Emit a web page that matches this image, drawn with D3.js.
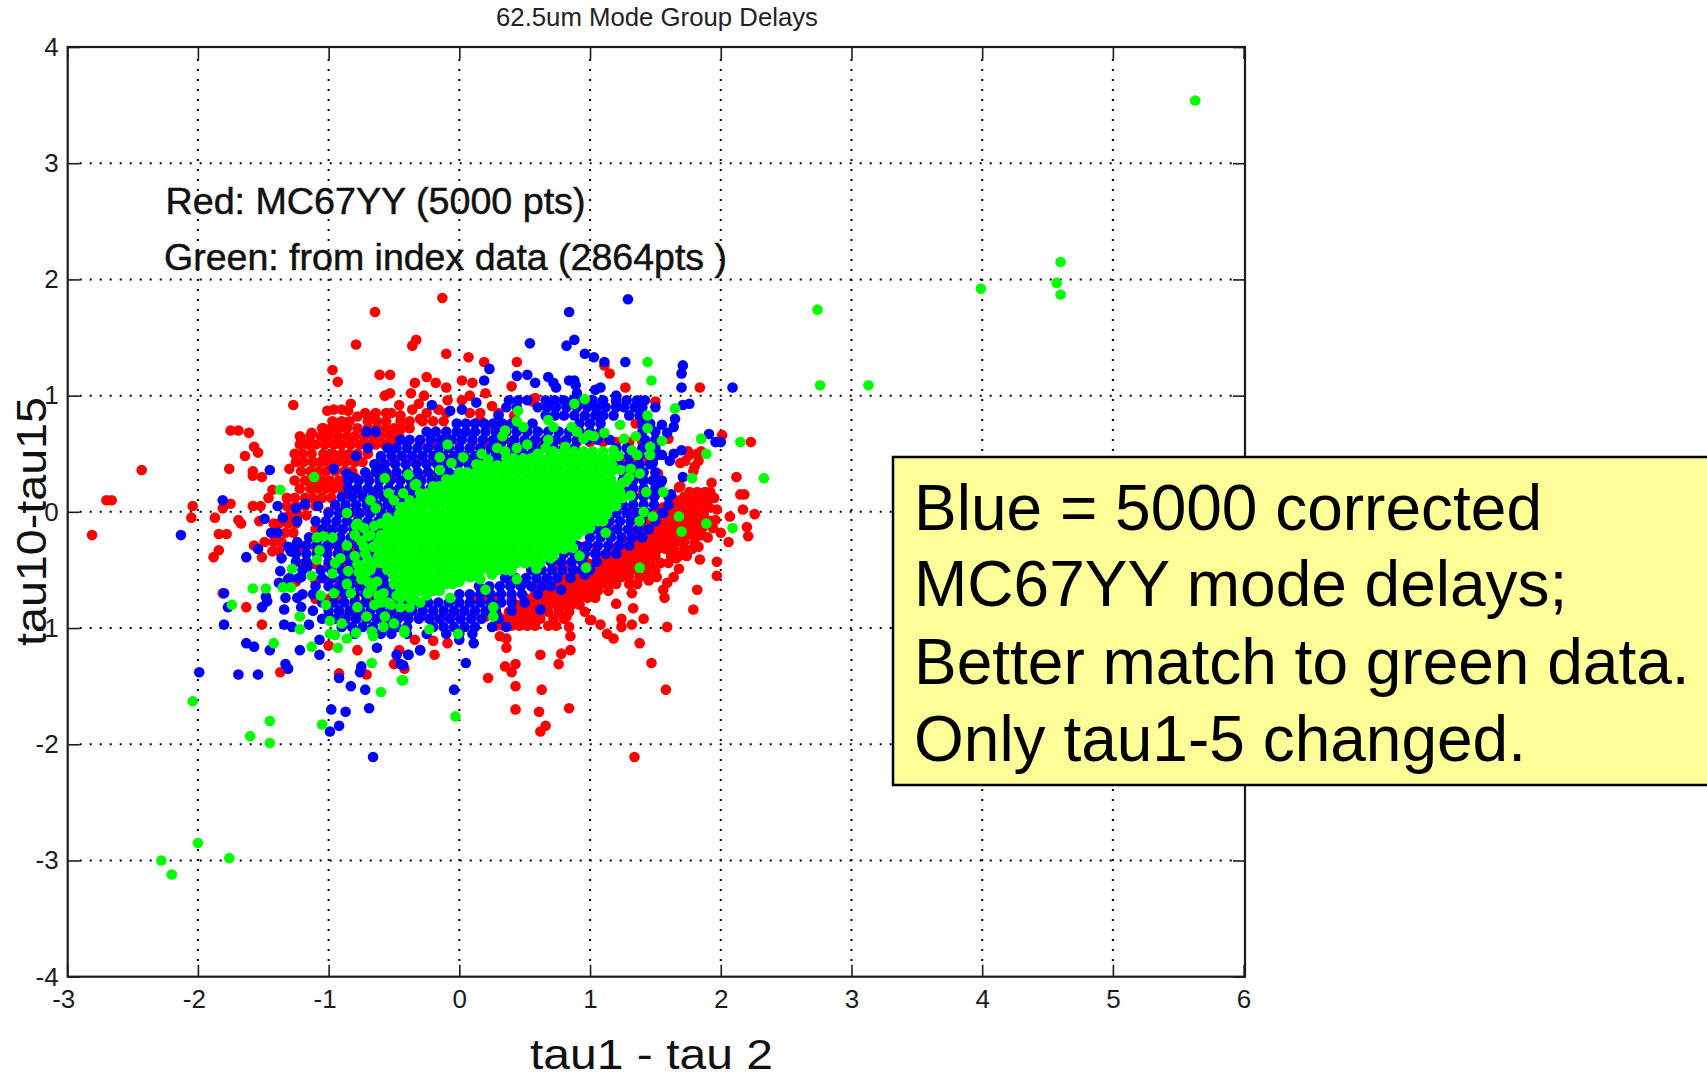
<!DOCTYPE html>
<html><head><meta charset="utf-8">
<script src="https://d3js.org/d3.v7.min.js"></script>
<style>html,body{margin:0;padding:0;background:#fff}svg{display:block}text{font-family:"Liberation Sans",Arial,sans-serif}</style>
</head><body><svg id="c" width="1707" height="1078"></svg>
<script>
const xTicks=[-3,-2,-1,0,1,2,3,4,5,6];
const yTicks=[-4,-3,-2,-1,0,1,2,3,4];
const titleText="62.5um Mode Group Delays";
const xLabel="tau1 - tau 2";
const yLabel="tau10-tau15";
const noteLines=["Red: MC67YY (5000 pts)","Green: from index data (2864pts )"];
const boxLines=["Blue = 5000 corrected","MC67YY mode delays;","Better match to green data.","Only tau1-5 changed."];

const redScatter=[[-2.81,-.2],[-2.7,.1],[-2.66,.1],[-2.43,.36],[-2.04,.05],[-2.05,-.05],[-1.87,-.05],[-1.75,.07],[-1.81,.03],[-1.69,-.07],[-1.67,-.1],[-1.84,-.19],[-1.78,-.19],[-1.84,-.33],[-1.88,-.39],[-1.75,.7],[-1.69,.7],[-1.61,.68],[-1.57,.56],[-1.54,.51],[-1.64,.48],[-1.76,.37],[-1.58,.35],[-1.58,.31],[-1.51,.3],[-1.27,.92],[-1.3,.37],[-1.43,.19],[-1.46,.12],[-1.58,.05],[-1.52,.05],[-1.53,-.08],[-1.42,-.1],[-1.49,-.26],[-1.57,-.29],[-1.51,-.39],[-1.63,-.82],[-1.51,-.97],[-1.81,-.7],[-1.37,-1.38],[-.92,-1.39],[-.71,-1.4],[-.5,-1.31],[-.42,-1.35],[-.46,-1.19],[-.78,-1.19],[-1,-1.15],[-.34,-1.1],[-.19,-1.23],[-.09,-1.13],[-.2,-1.11],[.22,-1.43],[.43,-1.5],[.63,-1.53],[.43,-1.7],[.61,-1.72],[.84,-1.69],[.66,-1.84],[.62,-1.89],[.35,-1.33],[.43,-1.31],[.4,-1.38],[.62,-1.23],[.78,-1.22],[.76,-1.31],[.85,-1.19],[.36,-1.17],[.31,-1.07],[.36,-1.09],[.85,-1.07],[.84,-.99],[.82,-.9],[.96,-.86],[1,-.93],[1.01,-.93],[1.08,-.97],[1.13,-1.05],[1.18,-1.09],[-.97,1.22],[-.93,1.12],[-.61,1.18],[-.53,1.18],[-.57,1],[-.53,1.02],[-.37,1.02],[-.34,1.11],[-.25,1.16],[-.18,1.11],[-.1,1.07],[-.1,1.36],[.07,1.33],[.19,1.29],[.44,1.29],[.02,1.13],[.1,1.11],[.2,1.02],[-.27,1],[-.31,.93],[-.36,.88],[-.46,.92],[-.83,.93],[-.85,.87],[-1.01,.87],[-.96,.88],[-.9,.88],[-.09,.96],[.02,.96],[.08,1],[.25,.91],[-.16,.88],[-.2,.78],[.16,.79],[.4,1.08],[-.13,1.84],[-.645,1.72],[-.79,1.44],[-.33,1.48],[-.36,1.43],[1.11,1.26],[1.15,1.19],[1.27,1.07],[1.84,1.07],[2.01,.66],[2.23,.6],[2.12,.3],[2.15,.15],[2.18,.15],[1.93,.25],[1.68,.21],[2.17,.02],[2.26,-.02],[1.97,.02],[2.07,-.04],[2.2,-.13],[2.21,-.21],[2.06,-.26],[1.97,-.43],[1.97,-.55],[1.82,-.67],[1.79,-.84],[1.57,-.74],[1.56,-.67],[1.59,-.61],[1.64,-.56],[1.68,-.49],[1.59,-.99],[1.41,-.92],[1.33,-.83],[1.32,-.7],[1.2,-.79],[1.24,-.92],[1.24,-.99],[1.32,-.97],[1.38,-1.13],[1.47,-1.3],[1.58,-1.53],[1.34,-2.11],[.56,.95],[.58,.98],[.7,.91],[1.2,.94],[1.35,.76],[1.5,.95],[1.6,.63],[1.75,.52],[1.82,.5],[1.73,.44],[1.8,.39],[1.72,.13],[1.05,.85],[.25,.75],[.42,.83],[1.69,.42],[1.79,.35],[1.76,.49],[1.85,.52],[1.83,.44],[1.52,.33],[1.69,.22],[1.96,-.07],[1.84,-.41],[1.83,-.3],[1.74,-.36],[1.66,-.4],[1.48,-.47],[1.51,-.56],[1.45,-.59],[1.31,-.41],[1.95,.12],[2,-.18],[1.9,-.22],[-1.21,.61],[-1.13,.68],[-1.05,.72],[-.95,.76],[-.78,.82],[-.66,.82],[-.52,.85],[-.45,.83],[-.3,.8]];
const redBand=[
[.85,-.72,-.64,-.56,-.25,-.1,.08,.16,.3],
[.78,-.97,-.9,-.84,-.7,-.63,-.56,-.45,-.38,-.28,-.12],
[.72,-1.04,-.98,-.92,-.86,-.78,-.7,-.63,-.56,-.5,-.44,-.38],
[.65,-1.22,-1.14,-1.06,-1,-.93,-.86,-.8,-.73,-.66,-.6,-.53,-.46],
[.58,-1.22,-1.16,-1.1,-1.03,-.96,-.9,-.83,-.76,-.7,-.64,-.57],
[.5,-1.26,-1.2,-1.13,-1.04,-.97,-.9,-.84,-.78,-.7],
[.43,-1.25,-1.19,-1.12,-1.06,-1,-.93,-.87,-.8,-.74],
[.35,-1.21,-1.14,-1.08,-1.02,-.95,-.88,-.82],
[.27,-1.26,-1.18,-1.12,-1.05,-.99,-.92,-.86],
[.2,-1.22,-1.14,-1.08,-1.02,-.96,-.9],
[.12,-1.32,-1.26,-1.18,-1.12,-1.05,-.98],
[.05,-1.32,-1.25,-1.18,-1.1],
[-.03,-1.3,-1.24,-1.17],
[-.1,-1.38,-1.31,-1.25],
[-.18,-1.4,-1.33,-1.27],
[-.26,-1.42,-1.36],
[-.34,-1.43,-1.38],
[.17,1.76,1.82,1.88,1.92],
[.1,1.66,1.72,1.78,1.84,1.9],
[.04,1.56,1.62,1.68,1.74,1.8,1.86,1.91],
[-.02,1.5,1.56,1.62,1.68,1.74,1.8,1.87],
[-.08,1.44,1.5,1.56,1.62,1.68,1.74,1.8,1.86,1.92],
[-.14,1.38,1.44,1.5,1.56,1.62,1.68,1.74,1.8,1.86,1.94],
[-.2,1.32,1.38,1.44,1.5,1.56,1.62,1.68,1.74,1.8,1.85],
[-.26,1.24,1.3,1.36,1.42,1.48,1.54,1.6,1.66,1.72,1.8],
[-.32,1.16,1.22,1.28,1.34,1.4,1.46,1.52,1.58,1.64,1.72,1.78],
[-.38,1.08,1.14,1.2,1.26,1.32,1.38,1.44,1.5,1.62,1.68,1.74],
[-.44,.98,1.04,1.1,1.16,1.22,1.28,1.34,1.4,1.46,1.54,1.6],
[-.5,.88,.94,1,1.06,1.12,1.18,1.24,1.3,1.36,1.44,1.5],
[-.56,.76,.82,.88,.94,1,1.06,1.12,1.18,1.24,1.3,1.38,1.44],
[-.62,.66,.72,.78,.84,.9,.96,1.02,1.08,1.14,1.2,1.3,1.36],
[-.68,.58,.64,.7,.76,.82,.88,.94,1,1.06,1.14],
[-.74,.5,.56,.62,.68,.74,.8,.86,.92,.98,1.04],
[-.8,.44,.5,.56,.62,.68,.74,.8,.86,.92],
[-.86,.38,.44,.5,.56,.62,.68,.76,.84],
[-.92,.32,.38,.44,.5,.56,.62,.72,.8],
[-.98,.28,.34,.4,.46,.52,.58,.68,.74],
[.6,-.5,-.4,-.3,-.2,-.1,0,.1,.2,.3,.4,.5,.6,.7,.8,.9,1,1.1,1.2,1.3,1.4],
[.45,-.6,-.5,-.4,-.3,-.2,-.1,0,.1,.2,.3,1.25,1.35,1.45],
[.3,-.8,-.7,-.6,-.5,-.4,-.3,-.2,-.1,1.3,1.4,1.5],
[.15,-.85,-.75,-.65,-.55,-.45,-.35,1.3,1.4,1.5],
[0,-1,-.9,-.8,-.7,-.6,-.5,1.2,1.3,1.4,1.5],
[-.15,-1.1,-1,-.9,-.8,-.7,-.6,1.1,1.2,1.3,1.4],
[-.3,-1.2,-1.1,-1,-.9,-.8,-.7,.95,1.05,1.15,1.25],
[-.45,-1.2,-1.1,-1,-.9,-.8,-.7,.75,.85,.95],
[-.6,-1.25,-1.1,-1,-.9,-.8,-.7,.4,.5,.6,.7,.8],
[-.75,-1.1,-1,-.9,-.8,-.7,-.6,.1,.2,.3,.4,.5],
[-.9,-1,-.9,-.8,-.7,-.6,-.5,-.4,-.3,-.2,-.1,0,.1,.2,.3]
];

const blueScatter=[[1.29,1.83],[.84,1.72],[.54,1.45],[.82,1.43],[.88,1.48],[.96,1.36],[1.03,1.33],[1.11,1.29],[1.27,1.29],[.23,1.23],[.19,1.13],[.44,1.17],[.52,1.18],[.58,1.11],[.68,1.16],[.72,1.11],[.74,1.07],[.84,1.13],[.88,1.13],[.89,1.09],[.9,1.02],[1.04,1.05],[1.08,1.07],[1.7,1.07],[1.7,1.19],[1.71,1.26],[2.09,1.07],[1.76,.93],[1.71,.92],[1.65,.8],[1.64,.73],[1.59,.68],[1.55,.75],[1.2,1],[1.91,.67],[1.96,.6],[2,.6],[1.7,.53],[1.64,.5],[1.55,.49],[1.61,.44],[1.48,.42],[1.71,.3],[1.54,.25],[1.62,.15],[1.56,-.01],[.78,-.67],[.62,-.84],[.96,-.54],[.36,-.99],[.11,-1.13],[0,-1.1],[.05,-1.3],[-.04,-1.53],[-.3,-1.19],[-.39,-1.23],[-.43,-1.32],[-1.45,.36],[-1.81,.1],[-2.13,-.2],[-1.63,-.39],[-1.54,-.32],[-1.49,-.06],[-1.8,-.7],[-1.77,-.82],[-1.8,-.97],[-1.63,-1.13],[-1.57,-1.16],[-1.45,-1.19],[-1.22,-1.19],[-1.07,-1.23],[-1.99,-1.38],[-1.69,-1.4],[-1.54,-1.4],[-1.33,-1.31],[-1.31,-1.35],[-.75,-1.33],[-.76,-1.38],[-.92,-1.43],[-.83,-1.5],[-.72,-1.53],[-.98,-1.7],[-.87,-1.72],[-.69,-1.69],[-.92,-1.84],[-.99,-1.89],[-.66,-2.11],[-.63,-1.17],[-.48,-1.23],[-.39,-1.23],[-.45,-1.31],[-.3,-1.19],[.13,.94],[-.21,.92],[-.07,.87],[.02,.88],[-.96,.37],[-.86,.33],[-.82,.3],[-.79,.48],[-.7,.55],[-.71,.69],[-.64,.69],[-.63,.37],[-1.39,.05],[-1.35,-.05],[-1.25,.03],[-1.18,.07],[-1.08,.05],[-1.24,-.08],[-1.44,-.18],[-1.39,-.18],[-1.36,-.4],[-1.29,-.34],[-1.24,-.26],[-1.31,-.3],[-1.37,-.51],[-1.38,-.61],[-1.33,-.74],[-1.34,-.84],[-1.24,-.74],[-1.21,-.82],[-1.51,-.82],[-1.47,-.77],[-1.48,-.73],[-1.34,-.97],[-1.28,-.99],[-1.15,-.97],[-1.07,-1.1],[-1.31,-.58],[-1.21,-.56],[-1.16,-.47]];
const blueBand=[
[.96,.38,.45,.52,.66,.73,.8,.87,.95,1.02,1.1,1.2,1.28,1.36,1.42],
[.9,.36,.44,.6,.67,.74,.82,.9,.98,1.05,1.12,1.2,1.26,1.34,1.4,1.5],
[.83,.3,.66,.73,.8,.88,.96,1.04,1.1,1.18,1.3,1.38],
[.76,-.02,.05,.12,.19,.26,.33,.4,.56,.92,1,1.08,1.4,1.46],
[.69,-.25,-.18,-.1,-.02,.05,.12,.2,.28,.36,.44,.52,.6,.68,.76,.84,.92,1,1.08,1.4,1.5],
[.62,-.45,-.38,-.3,-.22,-.14,-.06,.02,.1,.18,.26,.34,.42,.5,.58,.66,.74,.82,.9,.98,1.06,1.15,1.42,1.5],
[.55,-.55,-.48,-.4,-.32,-.24,-.16,-.08,0,.08,.16,.24,.32,.4,.48,.56,.64,.72,.8,.88,1.2,1.28,1.4,1.5],
[.48,-.6,-.52,-.44,-.36,-.28,-.2,-.12,-.04,.04,.12,.2,.28,.36,.44,.52,.6,.7,1.22,1.3,1.38,1.5],
[.41,-.65,-.57,-.49,-.41,-.33,-.25,-.17,-.09,-.01,.07,.15,.23,.31,.4,1.22,1.3,1.38,1.46],
[.34,-.72,-.64,-.56,-.48,-.4,-.32,-.24,-.16,-.08,0,.08,.2,1.25,1.33,1.41,1.5],
[.27,-.85,-.77,-.69,-.61,-.53,-.45,-.37,-.29,-.21,-.13,-.05,1.25,1.33,1.41,1.48,1.55],
[.2,-.85,-.78,-.7,-.62,-.54,-.46,-.38,-.3,-.22,-.14,1.25,1.33,1.41,1.5],
[.13,-.9,-.82,-.74,-.66,-.58,-.5,-.42,-.34,-.26,1.25,1.33,1.41,1.49,1.6],
[.06,-.95,-.87,-.79,-.71,-.63,-.55,-.47,-.39,-.32,1.25,1.33,1.41,1.49,1.6],
[-.01,-1,-.92,-.84,-.76,-.68,-.6,-.52,-.44,1.2,1.28,1.36,1.44,1.55],
[-.08,-1.1,-1.02,-.94,-.86,-.78,-.7,-.62,-.52,1.15,1.23,1.31,1.39,1.5],
[-.15,-1.05,-.97,-.89,-.81,-.73,-.65,-.56,1.05,1.13,1.21,1.29,1.37,1.45],
[-.22,-1.15,-1.07,-.99,-.91,-.83,-.75,-.67,-.6,1,1.08,1.16,1.24,1.32,1.4],
[-.29,-1.25,-1.17,-1.09,-1.01,-.93,-.85,-.77,-.69,-.61,.9,.98,1.06,1.14,1.22,1.3],
[-.36,-1.25,-1.17,-1.09,-1.01,-.93,-.85,-.77,-.69,-.61,.8,.88,.96,1.04,1.12,1.2],
[-.43,-1.25,-1.17,-1,-.92,-.84,-.76,-.68,-.6,.7,.78,.86,.94,1.05],
[-.5,-1.2,-1.06,-.98,-.9,-.82,-.74,-.66,-.6,.55,.63,.71,.79,.87,.94,1],
[-.57,-1.3,-1.23,-1.05,-.97,-.89,-.81,-.73,-.65,-.58,.35,.43,.51,.59,.67,.75,.85],
[-.64,-1.1,-1,-.92,-.84,-.76,-.68,-.6,-.55,.15,.23,.31,.39,.47,.55,.63,.7],
[-.71,-1.2,-1.12,-.96,-.88,-.8,-.72,-.64,-.56,-.5,0,.08,.16,.24,.32,.4,.48,.6],
[-.78,-1.05,-.96,-.88,-.8,-.72,-.64,-.56,-.48,-.4,-.32,-.24,-.16,-.08,0,.08,.16,.24,.32,.4,.5],
[-.85,-1.12,-1,-.92,-.84,-.76,-.68,-.6,-.52,-.44,-.36,-.28,-.2,-.12,-.04,.04,.12,.2,.28,.4],
[-.92,-1.05,-.95,-.87,-.79,-.71,-.63,-.55,-.47,-.39,-.31,-.23,-.15,-.07,.01,.09,.17,.3],
[-.99,-.9,-.82,-.74,-.66,-.56,-.48,-.4,-.2,-.12,-.04,.04,.12,.25],
[-1.05,-.8,-.6,-.52,-.4,-.25,-.1,0,.1]
];

const greenScatter=[[5.63,3.54],[4.6,2.15],[4.57,1.97],[4.6,1.87],[3.99,1.92],[2.74,1.74],[2.76,1.09],[3.13,1.09],[2.33,.29],[1.44,1.29],[1.47,1.13],[2.15,.6],[1.85,.63],[1.89,.5],[1.78,.29],[1.65,.89],[1.44,.83],[1.44,.72],[1.23,.75],[1.55,.61],[1.35,.65],[1.26,.63],[1.11,.68],[.99,.66],[1.03,.65],[.86,.73],[.9,.69],[.95,.63],[.96,.97],[.88,.93],[.45,.87],[.44,.78],[.49,.73],[.68,.79],[.72,.73],[.35,.7],[.33,.65],[-.09,.58],[-.15,.47],[.03,.47],[-.06,.42],[-.15,.36],[-.39,.32],[-.33,.24],[-.01,.26],[.13,.41],[.17,.5],[.22,.45],[.29,.55],[.35,.52],[.44,.55],[.52,.58],[.6,.5],[.66,.55],[.68,.62],[.81,.56],[1.46,.56],[1.46,.49],[1.32,.53],[1.36,.49],[1.23,.36],[1.31,.37],[1.38,.33],[1.28,.27],[1.22,.48],[1.18,.53],[1.43,.17],[1.56,.17],[1.31,.14],[1.23,.17],[1.41,0],[1.48,-.04],[1.38,-.08],[1.68,-.04],[1.7,-.17],[1.89,-.1],[2.09,-.14],[1.12,-.18],[1.38,-.48],[.97,-.48],[.92,-.38],[.87,-.31],[.85,-.24],[.95,-.16],[.7,-.4],[.59,-.49],[.44,-.58],[.2,-.67],[.26,-.82],[.26,-.9],[.16,-.58],[-.07,-.74],[-.3,-.78],[-.23,-1.01],[-.01,-1.05],[-.43,-1.45],[-.03,-1.76],[-.42,-1.02],[-1.11,.3],[-1.37,.19],[-.86,-.01],[-.57,.29],[-.34,.23],[-.54,.16],[-.43,.16],[-.5,.1],[-.42,.04],[-.68,.1],[-.64,.03],[-.78,-.1],[-.73,-.14],[-.7,-.21],[-.73,-.3],[-1.09,-.22],[-1.04,-.21],[-.97,-.22],[-.86,-.29],[-1.07,-.33],[-1.09,-.41],[-.91,-.4],[-.95,-.44],[-.97,-.53],[-1.28,-.49],[-1.13,-.55],[-1.35,-.65],[-1.29,-.65],[-1.58,-.66],[-1.48,-.66],[-1.74,-.8],[-.85,-.51],[-.86,-.62],[-.7,-.41],[-.75,-.58],[-.83,-.7],[-1.06,-.72],[-.96,-.7],[-1.02,-.8],[-.71,-.9],[-.57,-.9],[-.78,-.82],[-.65,-.8],[-.99,-.94],[-.9,-.96],[-.99,-1.05],[-.95,-1.06],[-.79,-1.04],[-.86,-1.09],[-.67,-1.03],[-.66,-1.07],[-.58,-.99],[-.5,-.96],[-.42,-1.04],[-.93,-1.17],[-1.13,-1.16],[-1.22,-.9],[-1.22,-1.01],[-1.42,-1.13],[-.67,-1.3],[-.44,-1.45],[-.6,-1.55],[-2.04,-1.63],[-1.45,-1.8],[-1.05,-1.83],[-1.6,-1.93],[-1.45,-1.99],[-2.28,-3],[-2.2,-3.12],[-2,-2.85],[-1.76,-2.98],[-.68,-.5],[-.72,-.45],[-.67,-.65],[-.7,-.7],[-.6,-.78],[-.52,-.8],[-.45,-.82],[-.38,-.82],[-.78,-.45],[-.79,-.12],[-.8,-.2],[-.75,-.25],[-.8,-.38],[-.72,-.36],[-.66,-.3],[-.68,-.2],[-.65,-.12],[-.6,-.1],[-.55,-.05],[-.72,-.52],[-.66,-.45],[-.7,-.6],[-.77,-.52],[-.63,-.6],[-.58,-.7],[-.62,-.72],[-.55,-.78],[-.48,-.72],[-.36,-.76],[-.25,-.72],[-.3,-.68],[-.15,-.68],[-.1,-.62],[0,-.6],[.08,-.56],[.25,-.54],[.3,-.5],[.5,-.44],[.78,-.24],[.98,-.1],[1.08,-.05],[1.2,.05],[1.25,.12],[1.25,.25],[1.3,.3]];
const greenCore=[
[.52,.72,.8,.88,.95,1.02,1.1],
[.46,.36,.42,.49,.55,.62,.68,.74,.78,.84,.91,.97,1.04,1.1,1.16],
[.4,.16,.22,.29,.35,.41,.46,.52,.59,.65,.72,.78,.85,.91,.98,1.04,1.11,1.17],
[.34,0,.06,.13,.19,.25,.32,.38,.45,.51,.58,.64,.71,.77,.84,.9,.97,1.03,1.1,1.16],
[.28,-.1,-.04,.05,.12,.18,.25,.31,.38,.44,.51,.57,.64,.7,.77,.83,.9,.96,1.03,1.09,1.16],
[.22,-.2,-.15,-.1,-.04,.03,.09,.16,.22,.29,.35,.42,.48,.55,.61,.68,.74,.81,.87,.94,1,1.07,1.13,1.19],
[.16,-.3,-.25,-.2,-.14,-.07,-.01,.06,.12,.19,.25,.32,.38,.45,.51,.58,.64,.71,.77,.84,.9,.97,1.03,1.1,1.16,1.22],
[.1,-.38,-.3,-.23,-.17,-.1,-.04,.03,.09,.16,.22,.29,.35,.42,.48,.55,.61,.68,.74,.81,.87,.94,1,1.07,1.13,1.19],
[.04,-.45,-.4,-.33,-.27,-.2,-.14,-.07,-.01,.06,.12,.19,.25,.32,.38,.45,.51,.58,.64,.71,.77,.84,.9,.97,1.03,1.1,1.16],
[-.02,-.46,-.4,-.33,-.27,-.2,-.14,-.07,-.01,.03,.09,.16,.22,.29,.35,.42,.48,.55,.61,.68,.74,.81,.87,.94,1,1.07,1.13],
[-.08,-.5,-.43,-.37,-.3,-.24,-.17,-.11,-.04,.02,.09,.15,.22,.28,.35,.41,.48,.54,.61,.67,.74,.8,.87,.93,1,1.06,1.1],
[-.14,-.55,-.49,-.42,-.36,-.29,-.23,-.16,-.1,-.03,.03,.1,.16,.23,.29,.36,.42,.49,.55,.62,.68,.75,.81,.88,.94,1],
[-.2,-.6,-.53,-.47,-.4,-.34,-.27,-.21,-.14,-.08,-.01,.05,.12,.18,.25,.31,.38,.44,.51,.57,.64,.7,.77,.83,.9],
[-.26,-.62,-.56,-.49,-.43,-.36,-.3,-.23,-.17,-.1,-.04,.03,.09,.16,.22,.29,.35,.42,.48,.55,.61,.68,.74,.81,.85],
[-.32,-.62,-.55,-.49,-.42,-.36,-.29,-.23,-.16,-.1,-.03,.03,.1,.16,.23,.29,.36,.42,.49,.55,.62,.68,.75,.8],
[-.38,-.62,-.56,-.49,-.43,-.36,-.3,-.23,-.17,-.1,-.04,.03,.09,.16,.22,.29,.35,.42,.48,.55,.61,.68,.72],
[-.44,-.6,-.53,-.47,-.4,-.34,-.27,-.21,-.14,-.08,-.01,.05,.12,.18,.25,.31,.38,.44,.51,.57,.62],
[-.5,-.55,-.49,-.42,-.36,-.29,-.23,-.16,-.1,-.03,.03,.1,.16,.23,.29,.36,.4],
[-.56,-.5,-.43,-.37,-.3,-.24,-.17,-.11,-.04,.02,.09,.15],
[-.62,-.5,-.44,-.37,-.31,-.24,-.18,-.11,-.05],
[-.68,-.45,-.38,-.32,-.25,-.2],
[-.74,-.45,-.38,-.35]
];

const W=1707,H=1078,L=67.7,R=1245,T=47,B=976.7;
const x=d3.scaleLinear().domain([-3,6]).range([67.2,1243.6]);
const y=d3.scaleLinear().domain([-4,4]).range([B,T]);
const svg=d3.select("#c");
const ink="#1c1c1c";

// grid
const grid=svg.append("g").attr("stroke","#000").attr("stroke-width",2).attr("stroke-dasharray","2 8");
grid.selectAll(".gx").data(xTicks.slice(1,-1)).join("line").attr("x1",d=>x(d)).attr("x2",d=>x(d)).attr("y1",T+12).attr("y2",B-12);
grid.selectAll(".gy").data(yTicks.slice(1,-1)).join("line").attr("y1",d=>y(d)).attr("y2",d=>y(d)).attr("x1",L+12).attr("x2",R-12);

// marks
const expand=rows=>rows.flatMap(r=>r.slice(1).map(v=>[v,r[0]]));
const layers=[["#ff0000",[...expand(redBand),...redScatter]],["#0000ff",[...expand(blueBand),...blueScatter]],["#00ff00",[...expand(greenCore),...greenScatter]]];
layers.forEach(([col,pts])=>{
  svg.append("g").attr("fill",col).selectAll("circle").data(pts).join("circle")
    .attr("cx",d=>x(d[0])).attr("cy",d=>y(d[1])).attr("r",5.3);
});

// axes
const styleAxis=g=>{g.select(".domain").attr("stroke","none");
  g.selectAll(".tick line").attr("stroke",ink).attr("stroke-width",1.6);
  g.selectAll("text").attr("fill",ink).style("font-size","26px").style("font-family",'"Liberation Sans",Arial,sans-serif');};
svg.append("g").attr("transform",`translate(0,${B})`).call(d3.axisBottom(x).tickValues(xTicks).tickSize(-12).tickSizeOuter(0).tickFormat(d=>String(d))).call(styleAxis)
  .call(g=>g.selectAll("text").attr("y",31).attr("dy",0).attr("dx",d=>d<0?-4:0));
svg.append("g").attr("transform",`translate(0,${T})`).call(d3.axisTop(x).tickValues(xTicks).tickSize(-12).tickSizeOuter(0).tickFormat("")).call(styleAxis);
svg.append("g").attr("transform",`translate(${L},0)`).call(d3.axisLeft(y).tickValues(yTicks).tickSize(-12).tickSizeOuter(0).tickFormat(d=>String(d))).call(styleAxis)
  .call(g=>g.selectAll("text").attr("x",-9));
svg.append("g").attr("transform",`translate(${R},0)`).call(d3.axisRight(y).tickValues(yTicks).tickSize(-12).tickSizeOuter(0).tickFormat("")).call(styleAxis);
svg.append("rect").attr("x",L).attr("y",T).attr("width",R-L).attr("height",B-T).attr("fill","none").attr("stroke",ink).attr("stroke-width",2.2);

// text
const txt=(s,px,py,size,w,fill)=>svg.append("text").attr("x",px).attr("y",py).attr("font-size",size).attr("fill",fill||"#000").attr("textLength",w).attr("lengthAdjust","spacingAndGlyphs").text(s);
txt(titleText,496,26,26,322,"#222");
txt(noteLines[0],165.5,214,36,420,"#111").attr("stroke","#111").attr("stroke-width",.5);
txt(noteLines[1],164,270,36,563,"#111").attr("stroke","#111").attr("stroke-width",.5);
txt(xLabel,530,1069,42,243,"#111");
svg.append("text").attr("transform","translate(46,646) rotate(-90)").attr("font-size",43).attr("fill","#111").attr("textLength",249).attr("lengthAdjust","spacingAndGlyphs").text(yLabel);

// yellow note
svg.append("rect").attr("x",893).attr("y",457).attr("width",W).attr("height",328).attr("fill","#ffff99").attr("stroke","#000").attr("stroke-width",2.5);
const boxBase=[530,606,684,761];
svg.append("g").selectAll("text").data(boxLines).join("text").attr("x",914).attr("y",(d,i)=>boxBase[i]).attr("font-size",64).attr("fill","#000").text(d=>d);
</script></body></html>
